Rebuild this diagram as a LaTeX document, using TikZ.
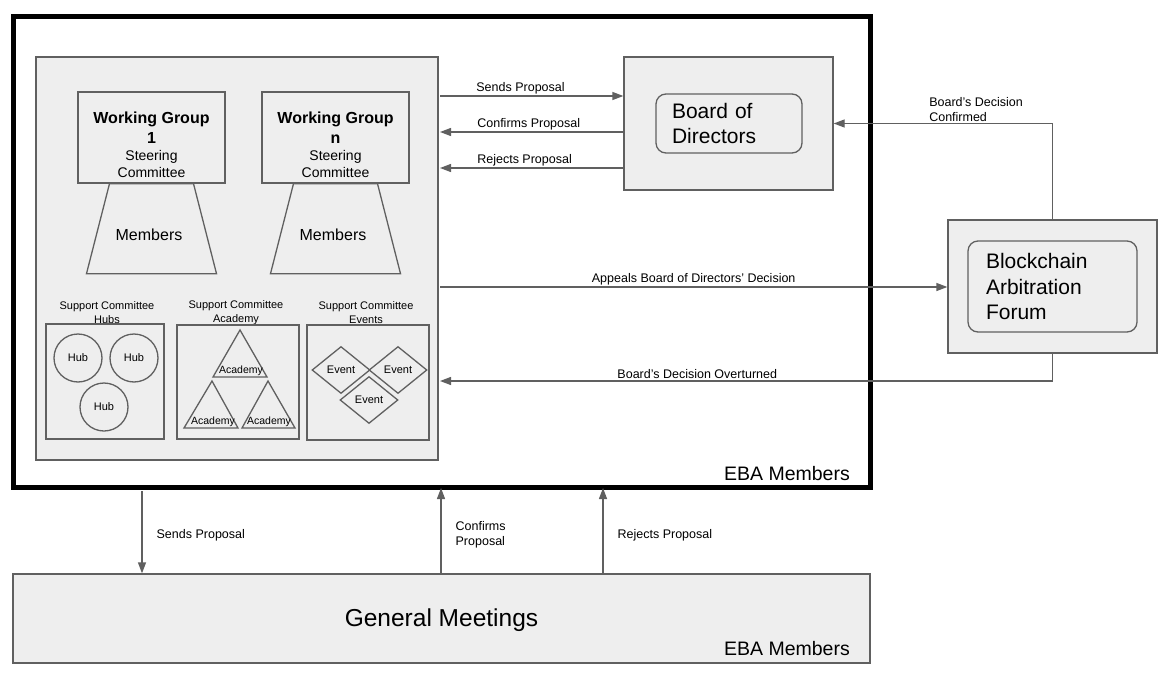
\documentclass[tikz,border=0pt]{standalone}
\usepackage{fontspec}
\setmainfont{Liberation Sans}
\usetikzlibrary{arrows.meta,shapes.geometric}
\definecolor{boxfill}{HTML}{EEEEEE}
\definecolor{linegray}{HTML}{606060}

\tikzset{
  frame/.style={draw=black,fill=white,line width=5pt,inner sep=0pt},
  box/.style={draw=linegray,fill=boxfill,line width=1.3pt,inner sep=0pt},
  rbox/.style={box,rounded corners=10pt,align=left,font=\fontsize{21}{25.5}\selectfont},
  flow/.style={draw=linegray,line width=1.3pt,-{Triangle[length=11pt,width=8pt]}},
  lbl/.style={font=\fontsize{12.5}{15}\selectfont,inner sep=0pt},
  small/.style={font=\fontsize{11}{14}\selectfont,inner sep=0pt},
  big/.style={font=\fontsize{19.5}{22}\selectfont,inner sep=0pt},
  hub/.style={draw=linegray,line width=1.3pt,shape=circle,minimum size=48pt,inner sep=0pt,
    font=\fontsize{11}{13}\selectfont},
  event/.style={draw=linegray,line width=1.3pt,shape=diamond,minimum width=58pt,
    minimum height=47pt,inner sep=0pt,font=\fontsize{11}{13}\selectfont},
  tri/.style={draw=linegray,line width=1.3pt},
}

\begin{document}
\begin{tikzpicture}[x=1pt,y=-1pt]
  \useasboundingbox (0,0) rectangle (1169,674);

  \node[frame,minimum width=857pt,minimum height=470pt] (eba) at (441.5,252) {};
  \node[big,anchor=base east] (ebat) at (850,480) {EBA Members};

  \node[box,minimum width=402pt,minimum height=403pt] (panel) at (237,258.5) {};

  \node[box,minimum width=147pt,minimum height=91pt] (wg1) at (151.5,137.5) {};
  \node[font=\fontsize{14}{17}\selectfont,align=center,inner sep=0pt] (wg1t) at (151.5,145)
    {\textbf{\fontsize{16}{17}\selectfont Working Group}\\[3pt]\textbf{\fontsize{16}{17}\selectfont 1}\\Steering\\Committee};
  \draw[box] (wg1.south) ++(-42,0) -- ++(84,0) -- ++(23,90) -- ++(-130,0) -- cycle;
  \node[font=\fontsize{16}{18}\selectfont,inner sep=0pt] (m1t) at (149,234.5) {Members};

  \node[box,minimum width=147pt,minimum height=91pt] (wgn) at (335.5,137.5) {};
  \node[font=\fontsize{14}{17}\selectfont,align=center,inner sep=0pt] (wgnt) at (335.5,145)
    {\textbf{\fontsize{16}{17}\selectfont Working Group}\\[3pt]\textbf{\fontsize{16}{17}\selectfont n}\\Steering\\Committee};
  \draw[box] (wgn.south) ++(-42,0) -- ++(84,0) -- ++(23,90) -- ++(-130,0) -- cycle;
  \node[font=\fontsize{16}{18}\selectfont,inner sep=0pt] (mnt) at (333,234.5) {Members};

  \node[small,align=center] (hubst) at (107,313) {Support Committee\\Hubs};
  \node[box,minimum width=118pt,minimum height=115pt] (hubs) at (105,381.5) {};
  \node[hub] (hub1) at (78,358) {Hub};
  \node[hub] (hub2) at (134,358) {Hub};
  \node[hub] (hub3) at (104,407) {Hub};

  \node[small,align=center] (acadt) at (236,313) {Support Committee\\Academy};
  \node[box,minimum width=122pt,minimum height=114pt] (acad) at (238,382) {};
  \draw[tri] (240,330) -- (267,377) -- (213,377) -- cycle;
  \draw[tri] (212,381) -- (238,428) -- (184,428) -- cycle;
  \draw[tri] (268,381) -- (295,428) -- (242,428) -- cycle;
  \node[font=\fontsize{10.5}{12}\selectfont,inner sep=0pt] (ac1) at (241,371) {Academy};
  \node[font=\fontsize{10.5}{12}\selectfont,inner sep=0pt] (ac2) at (213,422) {Academy};
  \node[font=\fontsize{10.5}{12}\selectfont,inner sep=0pt] (ac3) at (269,422) {Academy};

  \node[small,align=center] (evst) at (366,313) {Support Committee\\Events};
  \node[box,minimum width=122pt,minimum height=115pt] (evs) at (368,382.5) {};
  \node[event] (ev1) at (341,370) {Event};
  \node[event] (ev2) at (398,370) {Event};
  \node[event] (ev3) at (369,400) {Event};

  \node[box,minimum width=209pt,minimum height=133pt] (board) at (728.5,123.5) {};
  \node[rbox,minimum width=146pt,minimum height=59pt,text width=114pt,inner xsep=16pt] (boardt)
    at (729,123.5) {Board of\\Directors};

  \node[box,minimum width=209pt,minimum height=133pt] (arb) at (1052.5,286.5) {};
  \node[rbox,minimum width=169pt,minimum height=91pt,text width=133pt,inner xsep=18pt] (arbt)
    at (1052.5,286.5) {Blockchain\\Arbitration\\Forum};

  \node[box,minimum width=857pt,minimum height=89pt] (gm) at (441.5,618.5) {};
  \node[font=\fontsize{24.5}{28}\selectfont,inner sep=0pt] (gmt) at (441.5,620) {General Meetings};
  \node[big,anchor=base east] (gmeba) at (850,655) {EBA Members};

  \coordinate (bs) at (440,96);
  \coordinate (bc) at (440,132);
  \coordinate (br) at (440,168);
  \coordinate (ap) at (440,287);
  \coordinate (ov) at (440,381);
  \coordinate (gs) at (142,491);
  \coordinate (gc) at (441,488);
  \coordinate (gr) at (603,488);

  \draw[flow] (bs) -- (bs -| board.west)
    node[lbl,pos=0.195,anchor=south west,yshift=1pt] {Sends Proposal};
  \draw[flow] (bc -| board.west) -- (bc)
    node[lbl,pos=0.8,anchor=south west,yshift=1pt] {Confirms Proposal};
  \draw[flow] (br -| board.west) -- (br)
    node[lbl,pos=0.8,anchor=south west,yshift=1pt] {Rejects Proposal};
  \draw[flow] (arb.north) |- (board.east)
    node[lbl,pos=0.783,anchor=south west,align=left,yshift=1pt] {Board’s Decision\\Confirmed};
  \draw[flow] (ap) -- (ap -| arb.west)
    node[lbl,midway,anchor=south,yshift=1pt] {Appeals Board of Directors’ Decision};
  \draw[flow] (arb.south) |- (ov)
    node[lbl,pos=0.79,anchor=south,yshift=1.5pt] {Board’s Decision Overturned};

  \draw[flow] (gs) -- (gs |- gm.north)
    node[lbl,midway,anchor=west,xshift=14pt,yshift=-3pt] {Sends Proposal};
  \draw[flow] (gc |- gm.north) -- (gc)
    node[lbl,midway,anchor=west,align=left,xshift=14pt,yshift=-4pt] {Confirms\\Proposal};
  \draw[flow] (gr |- gm.north) -- (gr)
    node[lbl,midway,anchor=west,xshift=14pt,yshift=-5pt] {Rejects Proposal};
\end{tikzpicture}
\end{document}
